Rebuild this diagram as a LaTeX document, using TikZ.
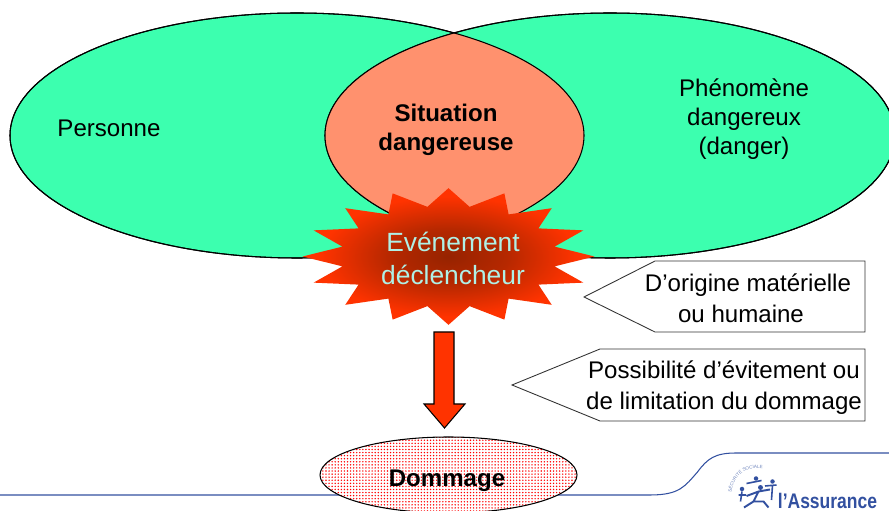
\documentclass[tikz,border=0pt]{standalone}
\usepackage{fontspec}
\setmainfont{Liberation Sans}
\usepackage{tikz}
\usetikzlibrary{shapes, positioning, patterns.meta, decorations.text}
\definecolor{vert}{RGB}{60,255,175}
\definecolor{saumon}{RGB}{255,145,110}
\definecolor{feu}{RGB}{255,51,0}
\definecolor{braise}{RGB}{150,35,0}
\definecolor{clair}{RGB}{175,240,230}
\definecolor{bleu}{RGB}{50,80,160}
\pgfdeclareradialshading{feuradial}{\pgfpoint{0bp}{0bp}}{color(0bp)=(braise); color(10bp)=(braise!70!feu); color(22bp)=(feu); color(50bp)=(feu)}
\tikzset{
	texte/.style={font=\fontsize{13.7pt}{17.5pt}\selectfont, align=center},
	gras/.style={texte, font=\fontsize{13.7pt}{16.5pt}\selectfont\bfseries},
	bulle/.style={draw=black!80, line width=.5pt, fill=white},
	eclat/.style={star, star points=16, star point ratio=1.35, minimum size=5.84cm, inner sep=0pt, yscale=.468, shading=feuradial}
}
\begin{document}
\begin{tikzpicture}
	\clip (0, 0) rectangle (17.78, 10.22);
	% deux ellipses
	\draw [fill=vert, line width=.6pt] (5.94, 7.51) ellipse (5.74 and 2.45);
	\draw [fill=vert, line width=.6pt] (12.2, 7.51) ellipse (5.7 and 2.45);
	\begin{scope}
		\clip (5.94, 7.51) ellipse (5.74 and 2.45);
		\fill [saumon] (12.2, 7.51) ellipse (5.7 and 2.45);
	\end{scope}
	\draw [line width=.6pt] (5.94, 7.51) ellipse (5.74 and 2.45);
	\draw [line width=.6pt] (12.2, 7.51) ellipse (5.7 and 2.45);
	\node [texte] (personne) at (2.18, 7.66) {Personne};
	\node [gras] (situation) at (8.92, 7.62) {Situation\\dangereuse};
	\node [texte, font=\fontsize{13.7pt}{16.5pt}\selectfont] (phenomene) at (14.88, 7.84) {Phénomène\\dangereux\\(danger)};
	% ligne du bas
	\draw [bleu, line width=.6pt] (0, .32)--(13, .32) .. controls (13.6, .32) and (13.7, .5) .. (13.95, .78) .. controls (14.15, 1.05) and (14.3, 1.16) .. (14.72, 1.16)--(17.78, 1.16);
	% evenement
	\node [eclat] (eclat) at (8.97, 5.09) {};
	\node [texte, text=clair, font=\fontsize{15pt}{18.7pt}\selectfont] (evenement) at (9.06, 5.05) {Evénement\\déclencheur};
	% fleche
	\draw [fill=feu, line width=.6pt] (8.68, 3.58)--(9.08, 3.58)--(9.08, 2.14)--(9.3, 2.14)--(8.89, 1.66)--(8.48, 2.14)--(8.68, 2.14)--cycle;
	% bulles
	\draw [bulle] (11.68, 4.28)--(13.1, 5)--(17.3, 5)--(17.3, 3.58)--(13.1, 3.58)--cycle;
	\node [texte] (origine) at (14.96, 4.25) {D’origine matérielle\\ou humaine\hspace*{.28cm}};
	\draw [bulle] (10.24, 2.52)--(12, 3.24)--(17.3, 3.24)--(17.3, 1.8)--(12, 1.8)--cycle;
	\node [texte] (evitement) at (14.48, 2.46) {Possibilité d’évitement ou\\de limitation du dommage};
	% dommage
	\draw [black, line width=.6pt, preaction={fill=white}, pattern={Dots[distance=1.75pt, radius=.45pt]}, pattern color=red] (8.97, .72) ellipse (2.57 and .76);
	\node [gras] (dommage) at (8.94, .6) {Dommage};
	% logo
	\node [bleu, font=\fontsize{12pt}{13pt}\selectfont\bfseries, xscale=.83, anchor=base, inner sep=0pt] (assurance) at (16.55, .05) {l’Assurance};
	\fill [bleu] (15.21, .47) circle (.05) (15.12, .65) circle (.045) (15.45, .59) circle (.045) (14.84, .44) circle (.045);
	\draw [bleu, line width=1.1pt] (15.17, .39)--(15.07, .19)--(14.88, .07) (15.07, .19)--(15.27, .19)--(15.37, .07) (14.93, .3)--(15.17, .39)--(15.4, .43);
	\draw [bleu, line width=.9pt] (14.93, .55)--(15.23, .61) (15.45, .52)--(15.43, .22) (15.3, .5)--(15.53, .52) (14.84, .39)--(14.81, .19) (14.77, .32)--(14.92, .32);
	\path [postaction={decorate, decoration={text along path, text align=center, text={|\fontsize{2.6pt}{3pt}\selectfont\color{bleu!70}|SÉCURITÉ SOCIALE}}}] (14.62, .33) .. controls (14.66, .7) and (14.9, .9) .. (15.3, .85);
\end{tikzpicture}
\end{document}
